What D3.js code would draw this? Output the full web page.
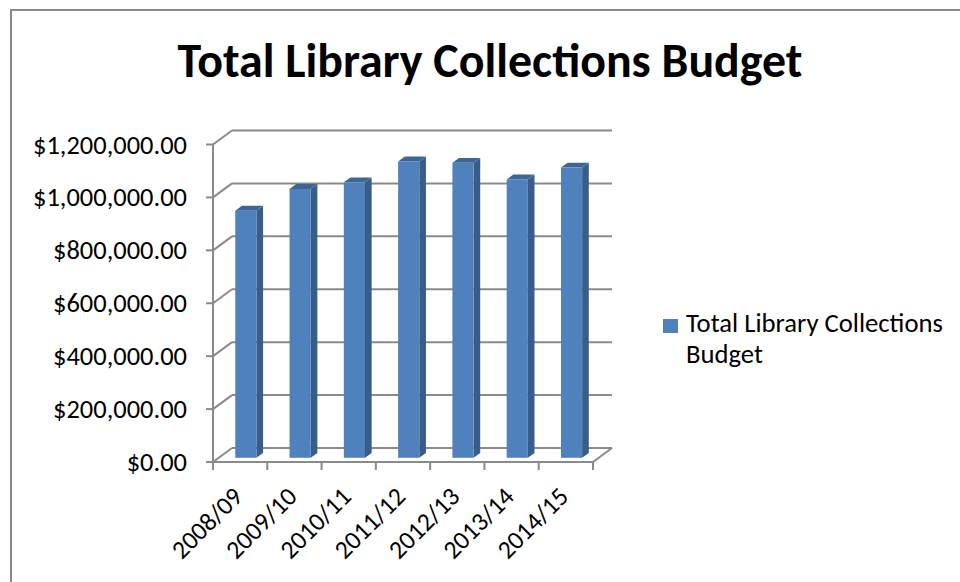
<!DOCTYPE html>
<html>
<head>
<meta charset="utf-8">
<script src="https://cdn.jsdelivr.net/npm/d3@7"></script>
<style>
  html, body { margin: 0; padding: 0; background: #fff; }
  svg { display: block; }
  text { font-family: Carlito, Lato, "Open Sans", sans-serif; fill: #000; }
</style>
</head>
<body>
<svg id="chart" width="960" height="582"></svg>
<script>
// Budget by fiscal year
const years = ["2008/09", "2009/10", "2010/11", "2011/12", "2012/13", "2013/14", "2014/15"];
const budget = [934000, 1016000, 1041000, 1120000, 1115000, 1052000, 1097000];
const yTicks = [0, 200000, 400000, 600000, 800000, 1000000, 1200000];
const seriesName = "Total Library Collections Budget";
const chartTitle = "Total Library Collections Budget";

const svg = d3.select("#chart");
const gridColor = "#8a8a8a";
const frontColor = "#4f81bd", sideColor = "#385d8a", topColor = "#3d6696";

// font size that makes a sample string span a given width
function fitSize(str, width, weight) {
  const t = svg.append("text").attr("font-size", 100).attr("font-weight", weight || "normal").text(str);
  const w = t.node().getComputedTextLength();
  t.remove();
  return 100 * width / w;
}
const tickSize = fitSize("$1,200,000.00", 154);
const catSize = fitSize("2010/11", 88);
const legSize = fitSize("Total Library Collections", 257);

// outer chart frame
svg.append("rect").attr("x", 11).attr("y", 10).attr("width", 970).attr("height", 600)
  .attr("fill", "none").attr("stroke", "#8a8a8a").attr("stroke-width", 2);

// oblique depth of the plot box
const DX = 19, DY = -14;
const x = d3.scaleBand().domain(years).range([213, 593]).padding(0);
const y = d3.scaleLinear().domain([0, 1200000]).range([462, 144.5]);
const x0 = x.range()[0], x1 = x.range()[1];

const g = svg.append("g");

// back wall gridlines + diagonals on the side wall
yTicks.forEach(t => {
  g.append("line").attr("x1", x0 + DX).attr("x2", x1 + DX)
    .attr("y1", y(t) + DY).attr("y2", y(t) + DY)
    .attr("stroke", gridColor).attr("stroke-width", 2);
  g.append("line").attr("x1", x0).attr("y1", y(t))
    .attr("x2", x0 + DX).attr("y2", y(t) + DY)
    .attr("stroke", gridColor).attr("stroke-width", 2);
});

// floor edges
g.append("line").attr("x1", x0).attr("x2", x1).attr("y1", y(0)).attr("y2", y(0))
  .attr("stroke", gridColor).attr("stroke-width", 2);
g.append("line").attr("x1", x1).attr("y1", y(0)).attr("x2", x1 + DX).attr("y2", y(0) + DY)
  .attr("stroke", gridColor).attr("stroke-width", 2);

// vertical axis with ticks and labels
g.append("line").attr("x1", x0).attr("x2", x0).attr("y1", y(1200000)).attr("y2", y(0) + 1)
  .attr("stroke", gridColor).attr("stroke-width", 2);
const fmt = d3.format("$,.2f");
yTicks.forEach(t => {
  g.append("line").attr("x1", x0 - 7).attr("x2", x0).attr("y1", y(t)).attr("y2", y(t))
    .attr("stroke", gridColor).attr("stroke-width", 2);
  g.append("text").attr("x", 187).attr("y", y(t) + 9)
    .attr("text-anchor", "end").attr("font-size", tickSize).text(fmt(t));
});

// category ticks along the front floor edge
const bounds = years.map(d => x(d)).concat([x1]);
bounds.forEach(b => {
  g.append("line").attr("x1", b).attr("x2", b).attr("y1", y(0)).attr("y2", y(0) + 8)
    .attr("stroke", gridColor).attr("stroke-width", 2);
});

// category labels, rotated
years.forEach(d => {
  const cx = x(d) + x.bandwidth() / 2;
  g.append("text")
    .attr("transform", `translate(${cx + 4},${y(0) + 36}) rotate(-45)`)
    .attr("text-anchor", "end")
    .attr("font-size", catSize).text(d);
});

// 3D columns
const f0 = 0.3, depth = 0.35;
const bw = x.bandwidth() * 0.39;
const ddx = DX * depth, ddy = DY * depth;
const bars = g.append("g").selectAll("g").data(years.map((d, i) => ({ k: d, v: budget[i] })))
  .join("g");
bars.each(function (d) {
  const sel = d3.select(this);
  const left = x(d.k) + x.bandwidth() / 2 - bw / 2 + DX * f0;
  const right = left + bw;
  const base = y(0) + DY * f0;
  const topY = y(d.v) + DY * f0;
  // side face
  sel.append("path").attr("fill", sideColor)
    .attr("d", `M${right},${base}L${right},${topY}L${right + ddx},${topY + ddy}L${right + ddx},${base + ddy}Z`);
  // top face
  sel.append("path").attr("fill", topColor)
    .attr("d", `M${left},${topY}L${left + ddx},${topY + ddy}L${right + ddx},${topY + ddy}L${right},${topY}Z`);
  // front face
  sel.append("rect").attr("x", left).attr("y", topY).attr("width", bw).attr("height", base - topY)
    .attr("fill", frontColor);
});

// title
svg.append("text").attr("x", 490).attr("y", 77)
  .attr("text-anchor", "middle").attr("font-weight", "bold")
  .attr("font-size", fitSize(chartTitle, 625, "bold"))
  .text(chartTitle);

// legend
svg.append("rect").attr("x", 663).attr("y", 319).attr("width", 15).attr("height", 14).attr("fill", frontColor);
const words = seriesName.split(" ");
const leg = svg.append("text").attr("x", 686).attr("y", 332).attr("font-size", legSize);
leg.append("tspan").attr("x", 686).text(words.slice(0, 3).join(" "));
leg.append("tspan").attr("x", 686).attr("dy", 31).text(words.slice(3).join(" "));
</script>
</body>
</html>
